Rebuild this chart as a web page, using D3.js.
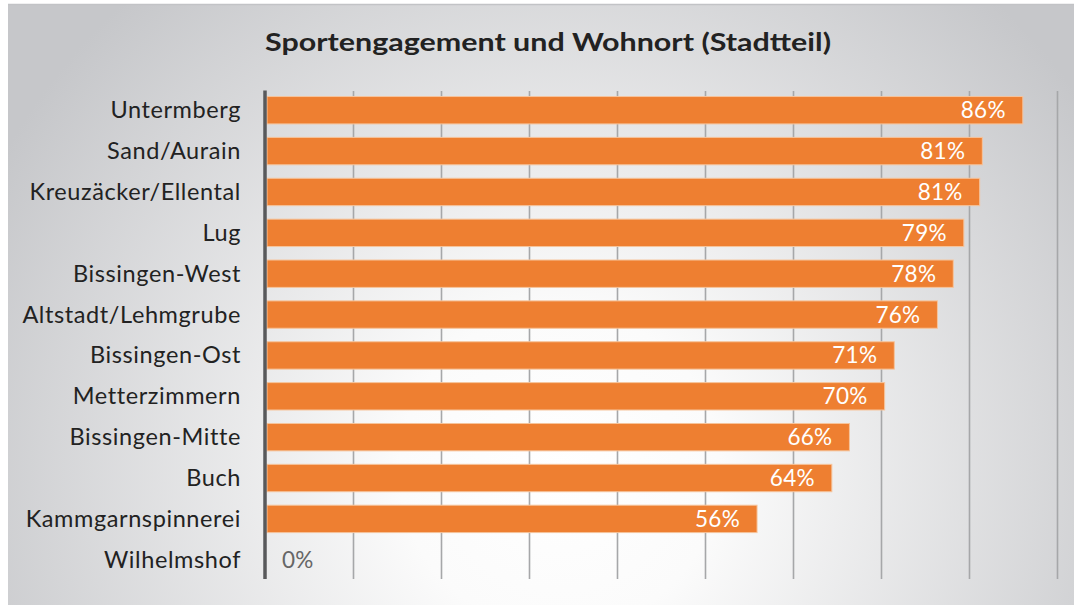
<!DOCTYPE html>
<html><head><meta charset="utf-8">
<script src="https://cdn.jsdelivr.net/npm/d3@7"></script>
<style>html,body{margin:0;padding:0;background:#fff;overflow:hidden}</style>
</head><body>
<svg id="c" width="1074" height="605"></svg>
<script>
const title = "Sportengagement und Wohnort (Stadtteil)";
const categories = ["Untermberg","Sand/Aurain","Kreuzäcker/Ellental","Lug","Bissingen-West","Altstadt/Lehmgrube","Bissingen-Ost","Metterzimmern","Bissingen-Mitte","Buch","Kammgarnspinnerei","Wilhelmshof"];
const values = [86.0, 81.4, 81.1, 79.3, 78.1, 76.3, 71.4, 70.3, 66.3, 64.3, 55.8, 0];
const labels = ["86%","81%","81%","79%","78%","76%","71%","70%","66%","64%","56%","0%"];
const xTicks = [0,10,20,30,40,50,60,70,80,90];

const svg = d3.select("#c");
const W = 1074, H = 605;
const font = "Lato, 'Open Sans', sans-serif";

const defs = svg.append("defs");
const rg = defs.append("radialGradient").attr("id","bg")
  .attr("gradientUnits","userSpaceOnUse")
  .attr("cx",560).attr("cy",470).attr("r",640);
rg.append("stop").attr("offset","0").attr("stop-color","#ffffff");
rg.append("stop").attr("offset","0.25").attr("stop-color","#fbfbfb");
rg.append("stop").attr("offset","1").attr("stop-color","#c6c7ca");

svg.append("rect").attr("x",8).attr("y",4).attr("width",W-8).attr("height",H-4).attr("fill","url(#bg)");
svg.append("line").attr("x1",8).attr("x2",W).attr("y1",4.5).attr("y2",4.5).attr("stroke","#c2c3c6").attr("stroke-width",1.5);

const x = d3.scaleLinear().domain([0,90]).range([266,1058]);
const y = d3.scaleBand().domain(categories).range([90,580]).paddingInner(0.33).paddingOuter(0.16);

// gridlines
svg.append("g").selectAll("line").data(xTicks.slice(1)).join("line")
  .attr("x1",d=>x(d)-0.5).attr("x2",d=>x(d)-0.5).attr("y1",91).attr("y2",579)
  .attr("stroke","#a6a7a9").attr("stroke-width",1.6);

// title
svg.append("text").attr("x",548).attr("y",51).attr("text-anchor","middle")
  .attr("font-family",font).attr("font-weight","bold").attr("font-size",25.5)
  .attr("textLength",566).attr("lengthAdjust","spacingAndGlyphs")
  .attr("fill","#222").text(title);

// bars
svg.append("g").selectAll("rect").data(categories).join("rect")
  .attr("x",x(0)+1).attr("y",c=>y(c))
  .attr("width",(c,i)=>Math.max(0,x(values[i])-x(0)-1)).attr("height",y.bandwidth())
  .attr("fill",(c,i)=>values[i]>0?"#ee7f31":"none")
  .attr("stroke",(c,i)=>values[i]>0?"#f6c49c":"none").attr("stroke-width",1);

// value labels
svg.append("g").selectAll("text").data(categories).join("text")
  .attr("x",(c,i)=>values[i]>0 ? x(values[i])-17 : x(0)+16)
  .attr("y",c=>y(c)+y.bandwidth()/2+8)
  .attr("text-anchor",(c,i)=>values[i]>0?"end":"start")
  .attr("font-family",font).attr("font-size",22.5).attr("letter-spacing",0.3)
  .attr("fill",(c,i)=>values[i]>0?"#fff":"#666")
  .text((c,i)=>labels[i]);

// category labels
svg.append("g").selectAll("text").data(categories).join("text")
  .attr("x",241).attr("y",c=>y(c)+y.bandwidth()/2+8)
  .attr("text-anchor","end").attr("font-family",font).attr("font-size",23.5)
  .attr("letter-spacing",0.6)
  .attr("fill","#222").text(c=>c);

// axis
svg.append("line").attr("x1",265).attr("x2",265).attr("y1",90.5).attr("y2",579)
  .attr("stroke","#58595b").attr("stroke-width",3.5);
</script>
</body></html>
